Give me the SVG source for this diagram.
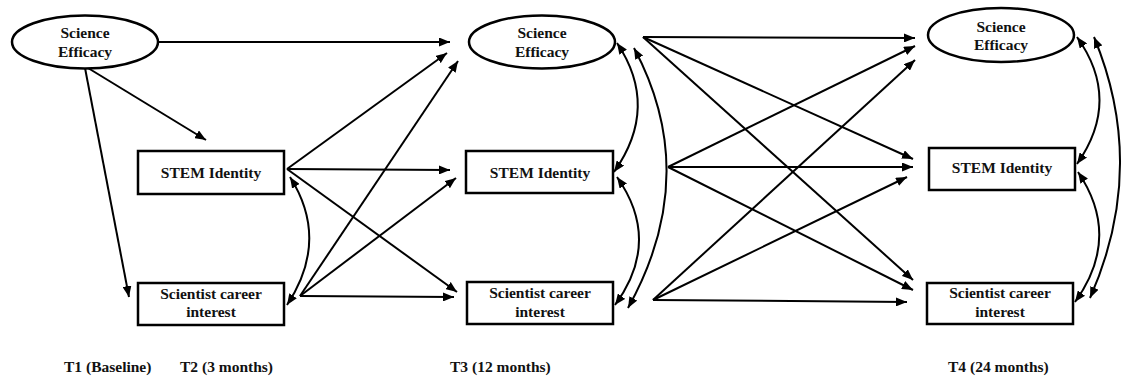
<svg xmlns="http://www.w3.org/2000/svg" width="1123" height="381" viewBox="0 0 1123 381">
<style>
.lbl{font-family:'Liberation Serif','Times New Roman','DejaVu Serif',serif;font-weight:700;font-size:15.5px;fill:#111;text-anchor:middle}
.ft{font-family:'Liberation Serif','Times New Roman','DejaVu Serif',serif;font-weight:700;font-size:15.5px;fill:#111}
.shape{fill:#fff;stroke:#000;stroke-width:2.5}
.ln{fill:none;stroke:#000;stroke-width:2}
.ar{marker-end:url(#ah)}
.cv{marker-start:url(#ah);marker-end:url(#ah)}
</style>
<defs>
<marker id="ah" markerUnits="userSpaceOnUse" markerWidth="11" markerHeight="9" refX="11" refY="4.5" orient="auto-start-reverse" viewBox="0 0 11 9">
<path d="M0,0 L11,4.5 L0,9 z" fill="#000"/>
</marker>
</defs>
<rect width="1123" height="381" fill="#fff"/>

<g id="connectors">
<line class="ln ar" x1="158" y1="42" x2="450" y2="42"/>
<line class="ln ar" x1="88" y1="68" x2="206" y2="140"/>
<line class="ln ar" x1="85" y1="68" x2="129" y2="297"/>
<line class="ln ar" x1="287" y1="169" x2="447" y2="53"/>
<line class="ln ar" x1="287" y1="169" x2="450" y2="170"/>
<line class="ln ar" x1="287" y1="169" x2="457" y2="292"/>
<line class="ln ar" x1="300" y1="296" x2="458" y2="61"/>
<line class="ln ar" x1="300" y1="296" x2="456" y2="178"/>
<line class="ln ar" x1="300" y1="296" x2="454" y2="297"/>
<path class="ln cv" d="M290,177 Q330,240 287,305"/>
<path class="ln cv" d="M617,43 Q660,107 614,172"/>
<path class="ln cv" d="M617,177 Q662,241 615,305"/>
<path class="ln cv" d="M634,48 Q702,175 628,308"/>
<line class="ln ar" x1="643" y1="37" x2="915" y2="38"/>
<line class="ln ar" x1="643" y1="37" x2="913" y2="159"/>
<line class="ln ar" x1="643" y1="37" x2="913" y2="280"/>
<line class="ln ar" x1="668" y1="167" x2="915" y2="46"/>
<line class="ln ar" x1="668" y1="167" x2="913" y2="167"/>
<line class="ln ar" x1="668" y1="167" x2="913" y2="290"/>
<line class="ln ar" x1="653" y1="300" x2="915" y2="60"/>
<line class="ln ar" x1="653" y1="300" x2="907" y2="177"/>
<line class="ln ar" x1="653" y1="300" x2="907" y2="302"/>
<path class="ln cv" d="M1077,37 Q1122,100 1077,164"/>
<path class="ln cv" d="M1078,172 Q1122,237 1075,302"/>
<path class="ln cv" d="M1094,37 Q1148,167 1090,298"/>
</g>

<g id="t1-science-efficacy">
<ellipse class="shape" cx="85" cy="42" rx="73" ry="26.5"/>
<text class="lbl" x="85" y="38">Science</text>
<text class="lbl" x="85" y="57">Efficacy</text>
</g>
<g id="t2-stem-identity">
<rect class="shape" x="138" y="151" width="146" height="43"/>
<text class="lbl" x="211" y="178">STEM Identity</text>
</g>
<g id="t2-career-interest">
<rect class="shape" x="138" y="283" width="146" height="42"/>
<text class="lbl" x="211" y="299">Scientist career</text>
<text class="lbl" x="211" y="317">interest</text>
</g>
<g id="t3-science-efficacy">
<ellipse class="shape" cx="542" cy="42" rx="73" ry="26.5"/>
<text class="lbl" x="542" y="38">Science</text>
<text class="lbl" x="542" y="57">Efficacy</text>
</g>
<g id="t3-stem-identity">
<rect class="shape" x="466" y="151" width="147" height="42"/>
<text class="lbl" x="540" y="178">STEM Identity</text>
</g>
<g id="t3-career-interest">
<rect class="shape" x="467" y="282" width="146" height="42"/>
<text class="lbl" x="540" y="298">Scientist career</text>
<text class="lbl" x="540" y="317">interest</text>
</g>
<g id="t4-science-efficacy">
<ellipse class="shape" cx="1001" cy="35" rx="73" ry="27"/>
<text class="lbl" x="1001" y="32">Science</text>
<text class="lbl" x="1001" y="50">Efficacy</text>
</g>
<g id="t4-stem-identity">
<rect class="shape" x="929" y="148" width="146" height="42"/>
<text class="lbl" x="1002" y="173">STEM Identity</text>
</g>
<g id="t4-career-interest">
<rect class="shape" x="927" y="283" width="146" height="41"/>
<text class="lbl" x="1000" y="298">Scientist career</text>
<text class="lbl" x="1000" y="317">interest</text>
</g>

<g id="time-labels">
<text class="ft" x="64" y="372">T1 (Baseline)</text>
<text class="ft" x="180" y="372">T2 (3 months)</text>
<text class="ft" x="450" y="372">T3 (12 months)</text>
<text class="ft" x="948" y="372">T4 (24 months)</text>
</g>
</svg>
